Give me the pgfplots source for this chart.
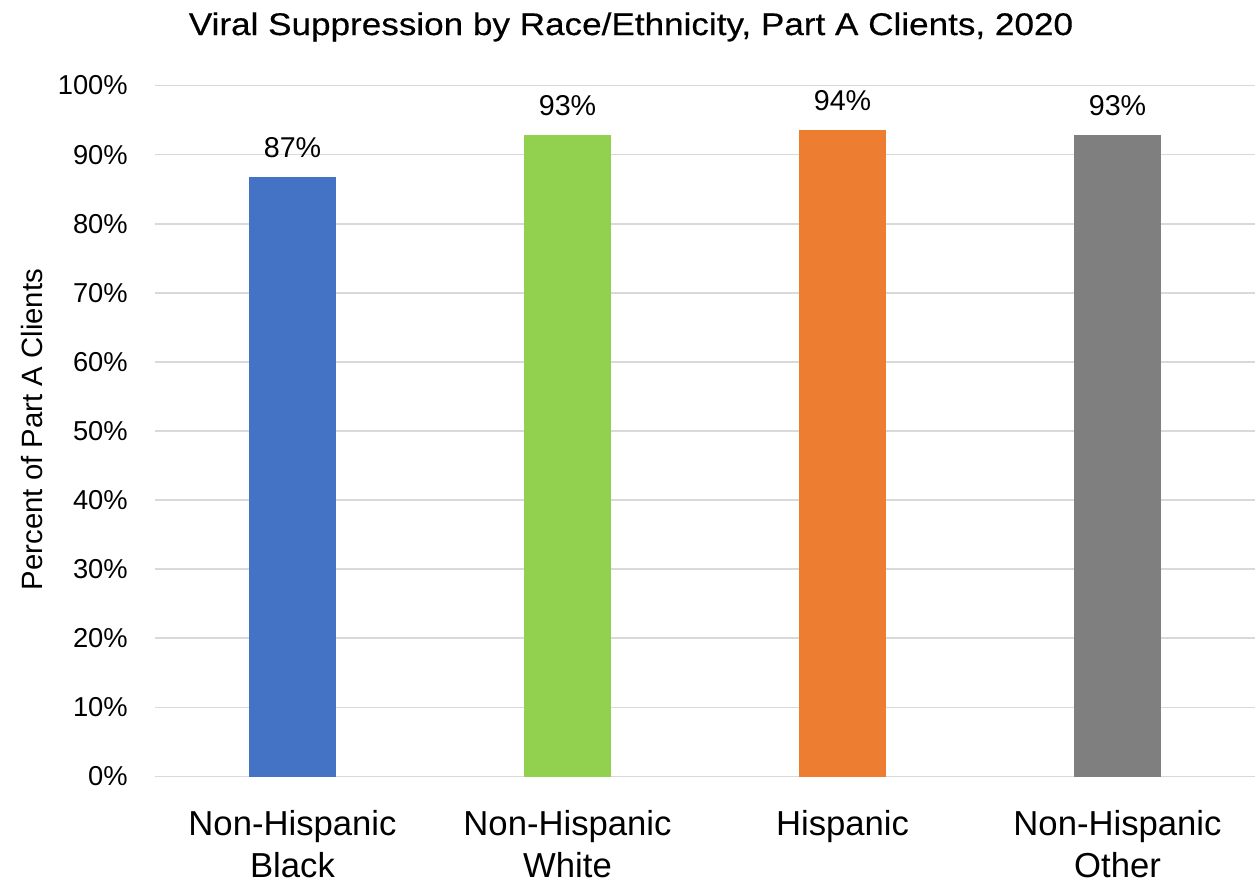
\documentclass[border=0pt]{standalone}
\usepackage{fontspec}
\setmainfont{Liberation Sans}
\newfontfamily\titlefont[FakeStretch=1.12, FakeBold=0.4]{Liberation Sans}
\usepackage{pgfplots}
\pgfplotsset{compat=1.18}

\definecolor{barBlue}{HTML}{4472C4}
\definecolor{barGreen}{HTML}{92D050}
\definecolor{barOrange}{HTML}{ED7D31}
\definecolor{barGray}{HTML}{7F7F7F}
\definecolor{gridGray}{HTML}{D9D9D9}

\begin{document}
\begin{tikzpicture}
% fixed page size around the plot area
\useasboundingbox (-116.25pt,-79.875pt) rectangle (825.75pt,582.375pt);
\begin{axis}[
  at={(0,0)}, anchor=south west,
  scale only axis,
  width=825pt, height=518.25pt,
  xmin=-0.5, xmax=3.5,
  ymin=0, ymax=100,
  axis line style={draw=none},
  major tick length=0pt,
  ymajorgrids,
  grid style={gridGray, line width=1.3pt},
  ytick={0,10,...,100},
  yticklabels={0\%,10\%,20\%,30\%,40\%,50\%,60\%,70\%,80\%,90\%,100\%},
  yticklabel style={font=\fontsize{20.5}{24}\selectfont, anchor=east, inner sep=0pt, xshift=-20.25pt},
  xtick={0,1,2,3},
  xticklabels={{Non-Hispanic\\Black},{Non-Hispanic\\White},{Hispanic},{Non-Hispanic\\Other}},
  xticklabel style={font=\fontsize{26}{31.5}\selectfont, align=center, anchor=north, inner sep=0pt, yshift=-25.5pt},
  /pgf/number format/assume math mode=true,
  nodes near coords={\pgfmathprintnumber[fixed,precision=0]{\pgfplotspointmeta}\%},
  nodes near coords style={font=\fontsize{21.5}{25}\selectfont, anchor=base, inner sep=0pt, yshift=14.7pt, text=black},
  clip=false,
]
\addplot[ybar, bar shift=0pt, bar width=65.25pt, fill=barBlue, draw=none] coordinates {(0,86.8)};
\addplot[ybar, bar shift=0pt, bar width=65.25pt, fill=barGreen, draw=none] coordinates {(1,92.8)};
\addplot[ybar, bar shift=0pt, bar width=65.25pt, fill=barOrange, draw=none] coordinates {(2,93.5)};
\addplot[ybar, bar shift=0pt, bar width=65.25pt, fill=barGray, draw=none] coordinates {(3,92.8)};
\end{axis}
% chart title and vertical axis label
\node[anchor=base, inner sep=0pt, font=\titlefont\fontsize{23.5}{28}\selectfont] at (357pt,556.1pt)
  {Viral Suppression by Race/Ethnicity, Part A Clients, 2020};
\node[anchor=base, rotate=90, inner sep=0pt, font=\fontsize{22}{26}\selectfont] at (-84pt,260.25pt)
  {Percent of Part A Clients};
\end{tikzpicture}
\end{document}
